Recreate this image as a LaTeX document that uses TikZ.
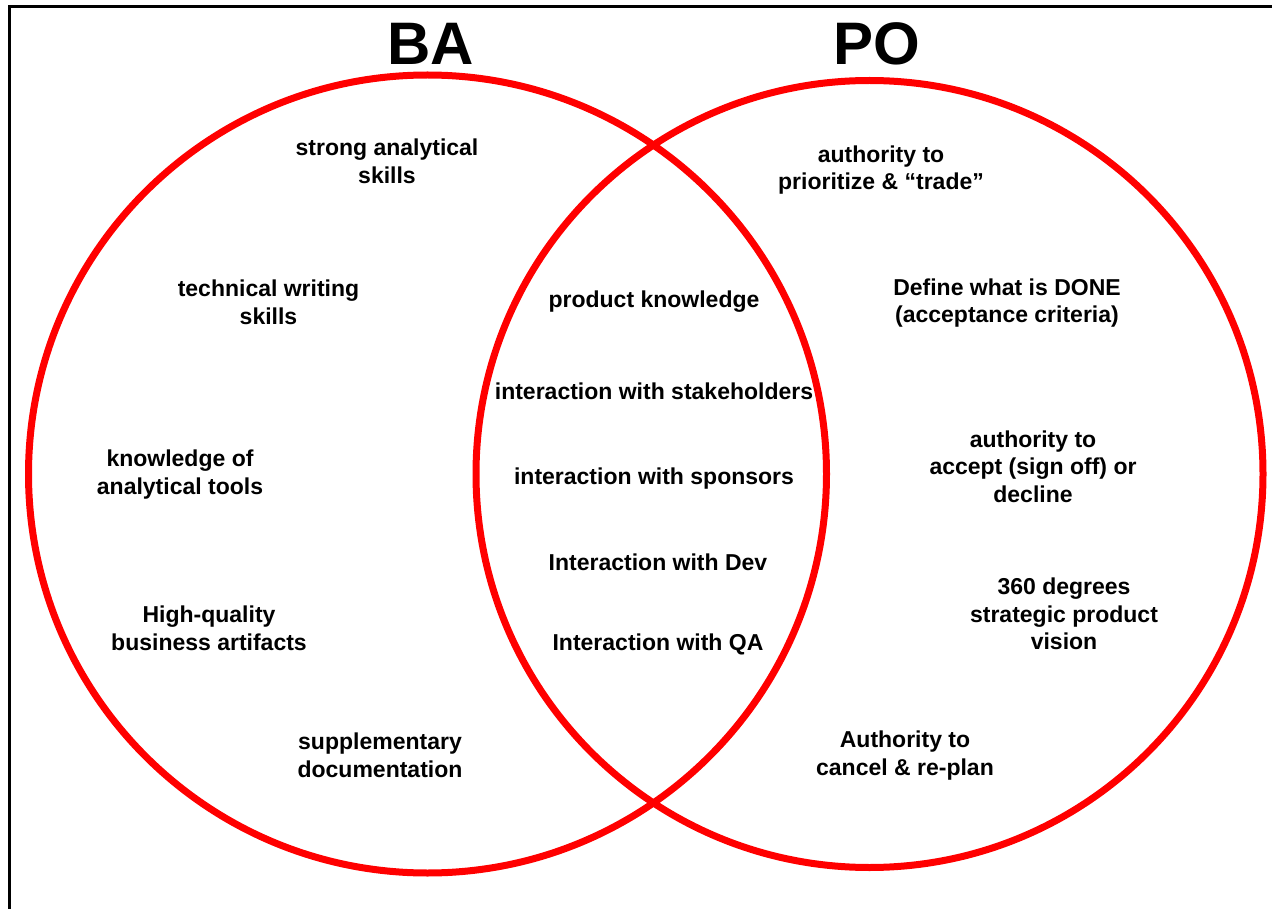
\documentclass[tikz,border=0pt]{standalone}
\usepackage{fontspec}
\setmainfont{Liberation Sans}
\begin{document}
\begin{tikzpicture}[x=1pt,y=-1pt,
  ring/.style={draw=red,line width=7pt},
  lbl/.style={font=\fontsize{23}{27.5}\selectfont\bfseries,align=center,inner sep=0pt},
  ttl/.style={font=\fontsize{60}{62}\selectfont\bfseries,inner sep=0pt},
  frame/.style={draw=black,line width=3.5pt}]
\useasboundingbox (0,0) rectangle (1272,909);
\fill[white] (0,0) rectangle (1272,909);
\coordinate (fb) at (9.3,909);
\coordinate (fc) at (9.3,6.3);
\coordinate (fr) at (1272,6.3);
\draw[frame] (fb) -- (fc) -- (fr);
\node[ring,circle,minimum size=798pt,inner sep=0pt] (ba) at (427.5,474) {};
\node[ring,circle,minimum size=787pt,inner sep=0pt] (po) at (869.5,474) {};
\node[ttl] (tba) at (431,44) {BA};
\node[ttl] (tpo) at (876.5,44) {PO};
% BA side
\node[lbl] (b1) at (387,161.5) {strong analytical\\skills};
\node[lbl] (b2) at (268.5,302.5) {technical writing\\skills};
\node[lbl] (b3) at (180,474.5) {knowledge of\\analytical tools};
\node[lbl] (b4) at (209,628.5) {High-quality\\business artifacts};
\node[lbl] (b5) at (380,755.5) {supplementary\\documentation};
% shared
\node[lbl] (c1) at (654,302) {product knowledge};
\node[lbl] (c2) at (654,391) {interaction with stakeholders};
\node[lbl] (c3) at (654,479) {interaction with sponsors};
\node[lbl] (c4) at (658,562) {Interaction with Dev};
\node[lbl] (c5) at (658,644) {Interaction with QA};
% PO side
\node[lbl] (p1) at (881,170) {authority to\\prioritize \& “trade”};
\node[lbl] (p2) at (1007,303) {Define what is DONE\\(acceptance criteria)};
\node[lbl] (p3) at (1033,466.5) {authority to\\accept (sign off) or\\decline};
\node[lbl] (p4) at (1064,614) {360 degrees\\strategic product\\vision};
\node[lbl] (p5) at (905,755.5) {Authority to\\cancel \& re-plan};
\end{tikzpicture}
\end{document}
